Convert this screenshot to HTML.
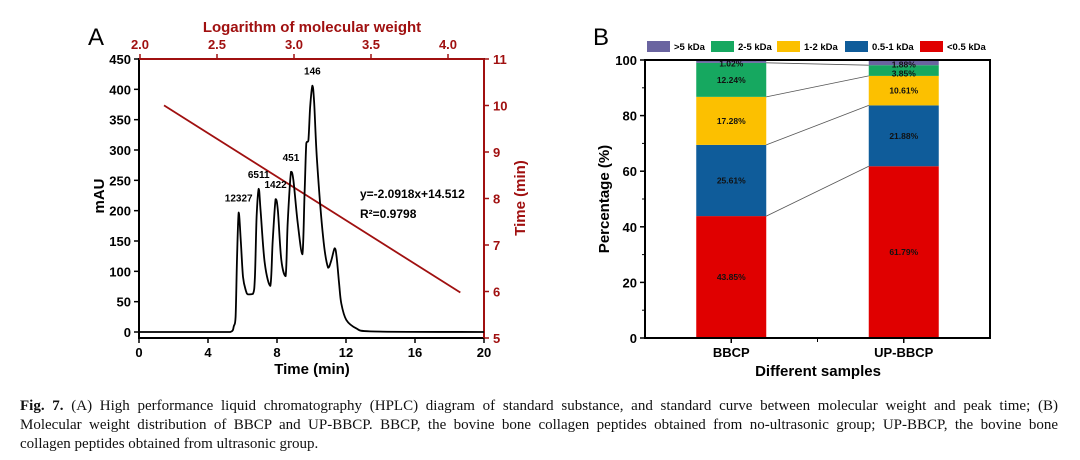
<!DOCTYPE html>
<html><head><meta charset="utf-8"><style>
html,body{margin:0;padding:0;background:#fff;width:1080px;height:460px;overflow:hidden}
svg text{font-family:"Liberation Sans",Arial,sans-serif}
.cap{position:absolute;left:20px;top:397px;width:1038px;font-family:"Liberation Serif",serif;font-size:15px;line-height:19px;color:#111}
.cap div{text-align:justify;text-align-last:justify;white-space:nowrap}
.cap div.last{text-align-last:left}
</style></head><body>
<svg id="fig" width="1080" height="392" style="position:absolute;left:0;top:0">
<g id="A"></g>
<g id="B"></g>
</svg>
<div class="cap"><div><b>Fig. 7.</b> (A) High performance liquid chromatography (HPLC) diagram of standard substance, and standard curve between molecular weight and peak time; (B)</div><div>Molecular weight distribution of BBCP and UP-BBCP. BBCP, the bovine bone collagen peptides obtained from no-ultrasonic group; UP-BBCP, the bovine bone</div><div class="last">collagen peptides obtained from ultrasonic group.</div></div>
<script>
// Panel A data
const timeVals=[0,5.29,5.5,5.6,5.68,5.78,5.9,6.03,6.2,6.32,6.61,6.72,6.82,6.94,7.05,7.29,7.61,7.75,7.92,8.05,8.25,8.5,8.62,8.81,8.95,9.2,9.47,9.6,9.7,9.82,9.92,10.05,10.15,10.32,10.67,10.96,11.15,11.34,11.45,11.6,11.73,12.02,12.6,13.4,20];
const mauVals=[0,0,10,25,120,197,150,91,68,62,63,90,190,236,200,113,76,150,219,200,119,92,180,264,250,180,128,230,311,316,370,406,380,283,157,106,118,138,125,80,47,20,6,1,0];
const peakLabels=["12327","6511","1422","451","146"];
const peakTimes=[5.78,6.94,7.92,8.81,10.05];
const peakMau=[197,236,219,264,406];
const fitSlope=-2.0918, fitIntercept=14.512;
const fitLogRange=[2.156,4.08];
const yTicksA=[0,50,100,150,200,250,300,350,400,450];
const xTicksA=[0,4,8,12,16,20];
const topTicks=[2.0,2.5,3.0,3.5,4.0];
const rightTicks=[5,6,7,8,9,10,11];
// Panel B data
const samples=["BBCP","UP-BBCP"];
const classes=["<0.5 kDa","0.5-1 kDa","1-2 kDa","2-5 kDa",">5 kDa"];
const bbcpVals=[43.85,25.61,17.28,12.24,1.02];
const upVals=[61.79,21.88,10.61,3.85,1.88];
const yTicksB=[0,20,40,60,80,100];
const colors=["#e00000","#0f5c9a","#fcc000","#16a860","#6a64a0"];

const NS="http://www.w3.org/2000/svg";
function mk(p,t,a,txt){const e=document.createElementNS(NS,t);for(const k in a)e.setAttribute(k,a[k]);if(txt!==undefined)e.textContent=txt;p.appendChild(e);return e;}
const A=document.getElementById('A'),B=document.getElementById('B');
const RED="#a01010";
const L=139,R=484,T=59,Bt=338;
const xA=t=>L+t/20*(R-L);
const yA=v=>332-v/450*(332-59);
const xTop=l=>140+(l-2)/2*308;
const yRight=m=>Bt-(m-5)/6*(Bt-T);
let e;
e=mk(A,'rect',{x:L,y:T,width:R-L,height:Bt-T,fill:'none',stroke:'#000','stroke-width':2});

mk(A,'line',{x1:L,y1:T,x2:R,y2:T,stroke:RED,'stroke-width':2});
mk(A,'line',{x1:R,y1:T,x2:R,y2:Bt,stroke:RED,'stroke-width':2});
yTicksA.forEach(v=>{mk(A,'line',{x1:L-5,y1:yA(v),x2:L,y2:yA(v),stroke:'#000','stroke-width':1.5});
 e=mk(A,'text',{x:L-8,y:yA(v)+5,'text-anchor':'end','font-size':13,'font-weight':'bold'},v);});
xTicksA.forEach(v=>{mk(A,'line',{x1:xA(v),y1:Bt,x2:xA(v),y2:Bt+5,stroke:'#000','stroke-width':1.5});
 e=mk(A,'text',{x:xA(v),y:Bt+19,'text-anchor':'middle','font-size':13,'font-weight':'bold'},v);});
topTicks.forEach(v=>{mk(A,'line',{x1:xTop(v),y1:T-5,x2:xTop(v),y2:T,stroke:RED,'stroke-width':1.5});
 e=mk(A,'text',{x:xTop(v),y:T-10,'text-anchor':'middle','font-size':13,'font-weight':'bold',fill:RED},v.toFixed(1));});
rightTicks.forEach(v=>{mk(A,'line',{x1:R,y1:yRight(v),x2:R+5,y2:yRight(v),stroke:RED,'stroke-width':1.5});
 e=mk(A,'text',{x:R+9,y:yRight(v)+5,'font-size':13,'font-weight':'bold',fill:RED},v);});
e=mk(A,'text',{x:88,y:45,'font-size':24},'A');
e=mk(A,'text',{x:312,y:32,'text-anchor':'middle','font-size':15,'font-weight':'bold',fill:RED},'Logarithm of molecular weight');
e=mk(A,'text',{x:312,y:374,'text-anchor':'middle','font-size':15,'font-weight':'bold'},'Time (min)');
e=mk(A,'text',{x:0,y:0,'text-anchor':'middle','font-size':15,'font-weight':'bold',transform:'translate(104,196) rotate(-90)'},'mAU');
e=mk(A,'text',{x:0,y:0,'text-anchor':'middle','font-size':15,'font-weight':'bold',fill:RED,transform:'translate(525,198) rotate(-90)'},'Time (min)');
e=mk(A,'line',{x1:xTop(fitLogRange[0]),y1:yRight(fitSlope*fitLogRange[0]+fitIntercept),x2:xTop(fitLogRange[1]),y2:yRight(fitSlope*fitLogRange[1]+fitIntercept),stroke:RED,'stroke-width':1.8});

const P=timeVals.map((t,i)=>[xA(t),yA(mauVals[i])]);
const cl=(v,a,b)=>Math.max(Math.min(a,b),Math.min(Math.max(a,b),v));
let d='M'+P[0][0].toFixed(1)+','+P[0][1].toFixed(1);
for(let i=0;i<P.length-1;i++){const p0=P[Math.max(0,i-1)],p1=P[i],p2=P[i+1],p3=P[Math.min(P.length-1,i+2)];
 const c1=[cl(p1[0]+(p2[0]-p0[0])/6,p1[0],p2[0]),cl(p1[1]+(p2[1]-p0[1])/6,p1[1],p2[1])],c2=[cl(p2[0]-(p3[0]-p1[0])/6,p1[0],p2[0]),cl(p2[1]-(p3[1]-p1[1])/6,p1[1],p2[1])];
 d+='C'+c1.map(v=>v.toFixed(1)).join(',')+' '+c2.map(v=>v.toFixed(1)).join(',')+' '+p2.map(v=>v.toFixed(1)).join(',');}
e=mk(A,'path',{d:d,fill:'none',stroke:'#000','stroke-width':1.8,'stroke-linejoin':'round'});

peakLabels.forEach((s,i)=>{e=mk(A,'text',{x:xA(peakTimes[i]),y:yA(peakMau[i])-11,'text-anchor':'middle','font-size':10,'font-weight':'bold'},s);
 });
e=mk(A,'text',{x:360,y:198,'font-size':12,'font-weight':'bold'},'y=-2.0918x+14.512');
e=mk(A,'text',{x:360,y:218,'font-size':12,'font-weight':'bold'},'R²=0.9798');

// B
const BL=645,BR=990,BT=60,BB=338;
const xB=i=>BL+(i+0.5)/2*(BR-BL);
const yB=v=>BB-v/100*(BB-BT);
const bw=70;
const series=[bbcpVals,upVals];
const cum=series.map(s=>{let c=0;return s.map(v=>c+=v);});
series.forEach((s,i)=>{let c=0;s.forEach((v,j)=>{
 e=mk(B,'rect',{x:xB(i)-bw/2,y:yB(c+v),width:bw,height:yB(c)-yB(c+v),fill:colors[j]});
 
 let ly=yB(c+v/2)+3; if(j==4) ly=yB(c+v/2)+5; if(j==3&&v<6) ly=yB(c+v/2)+6;
 e=mk(B,'text',{x:xB(i),y:ly,'text-anchor':'middle','font-size':8.5,'font-weight':'bold',fill:'#111'},v.toFixed(2)+'%');
 
 c+=v;});});
for(let j=0;j<4;j++){e=mk(B,'line',{x1:xB(0)+bw/2,y1:yB(cum[0][j]),x2:xB(1)-bw/2,y2:yB(cum[1][j]),stroke:'#555','stroke-width':0.8});
 }
e=mk(B,'rect',{x:BL,y:BT,width:BR-BL,height:BB-BT,fill:'none',stroke:'#000','stroke-width':2});

yTicksB.forEach(v=>{mk(B,'line',{x1:BL-5,y1:yB(v),x2:BL,y2:yB(v),stroke:'#000','stroke-width':1.5});
 if(v<100)mk(B,'line',{x1:BL,y1:yB(v+10),x2:BL-3,y2:yB(v+10),stroke:'#000','stroke-width':1});
 e=mk(B,'text',{x:BL-8,y:yB(v)+5,'text-anchor':'end','font-size':13,'font-weight':'bold'},v);});
samples.forEach((s,i)=>{mk(B,'line',{x1:xB(i),y1:BB,x2:xB(i),y2:BB+5,stroke:'#000','stroke-width':1.5});
 e=mk(B,'text',{x:xB(i),y:BB+19,'text-anchor':'middle','font-size':13,'font-weight':'bold'},s);});
mk(B,'line',{x1:(xB(0)+xB(1))/2,y1:BB,x2:(xB(0)+xB(1))/2,y2:BB+4,stroke:'#000','stroke-width':1});
e=mk(B,'text',{x:818,y:376,'text-anchor':'middle','font-size':15,'font-weight':'bold'},'Different samples');
e=mk(B,'text',{x:0,y:0,'text-anchor':'middle','font-size':15,'font-weight':'bold',transform:'translate(609,199) rotate(-90)'},'Percentage (%)');
e=mk(B,'text',{x:593,y:45,'font-size':24},'B');
const legX=[647,711,777,845,920];
[4,3,2,1,0].forEach((j,k)=>{e=mk(B,'rect',{x:legX[k],y:41,width:23,height:11,fill:colors[j]});
 e=mk(B,'text',{x:legX[k]+27,y:50,'font-size':9.5,'font-weight':'bold'},classes[j]);});
</script>
</body></html>
